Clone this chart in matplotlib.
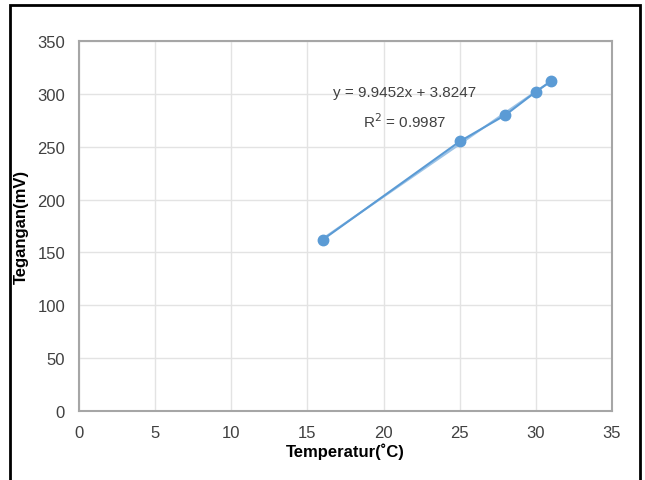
import matplotlib.pyplot as plt
import matplotlib.patches as patches
import numpy as np

plt.rcParams['font.family'] = ['Liberation Sans Narrow', 'Liberation Sans', 'DejaVu Sans']

temp = [16, 25, 28, 30, 31]
volt = [162, 255, 280, 302, 312]
slope = 9.9452
intercept = 3.8247
x_ticks = [0, 5, 10, 15, 20, 25, 30, 35]
y_ticks = [0, 50, 100, 150, 200, 250, 300, 350]

fig = plt.figure(figsize=(6.45, 4.81), dpi=100)
ax = fig.add_axes([0.1225, 0.1435, 0.8264, 0.7692])

blue = '#5b9bd5'
xt = np.array([min(temp), max(temp)])
ax.plot(xt, slope * xt + intercept, color='#9dc3e6', linewidth=1.5, zorder=2)
ax.plot(temp, volt, color=blue, linewidth=1.5, marker='o', markersize=7.5, zorder=3)

ax.text(21.4, 302, 'y = 9.9452x + 3.8247', ha='center', va='center', fontsize=11, color='#404040')
ax.text(21.4, 275, 'R$^2$ = 0.9987', ha='center', va='center', fontsize=11, color='#404040')

ax.set_xlim(0, 35)
ax.set_ylim(0, 350)
ax.set_xticks(x_ticks)
ax.set_yticks(y_ticks)
ax.tick_params(length=0, labelsize=12, colors='#404040', pad=10)
ax.grid(True, color='#e3e3e3', linewidth=1)
ax.set_axisbelow(True)
for s in ax.spines.values():
    s.set_color('#a6a6a6')
    s.set_linewidth(1.5)

ax.set_xlabel('Temperatur(˚C)', fontsize=12, fontweight='bold', labelpad=2)
ax.set_ylabel('Tegangan(mV)', fontsize=12, fontweight='bold', labelpad=6)

fig.patches.append(patches.Rectangle((10 / 645, -0.01), 630 / 645, 1 - 6 / 481 + 0.01,
                                     transform=fig.transFigure, fill=False,
                                     edgecolor='black', linewidth=2))

fig.savefig('out.png', dpi=100)
